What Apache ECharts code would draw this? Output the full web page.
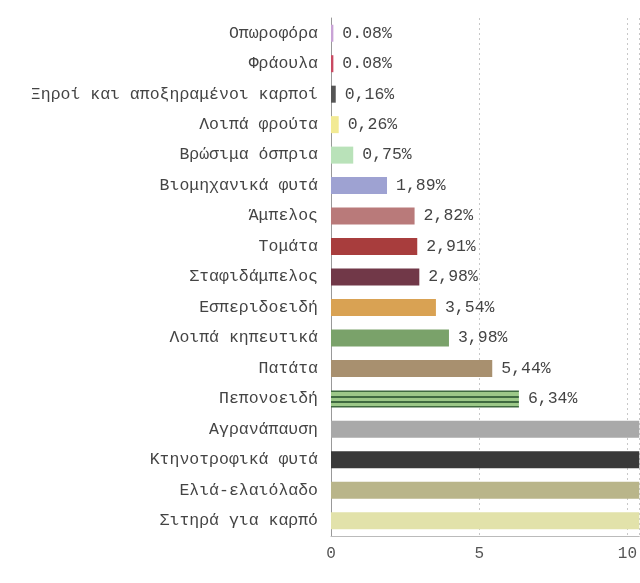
<!DOCTYPE html>
<html>
<head>
<meta charset="utf-8">
<script src="https://cdn.jsdelivr.net/npm/echarts@6/dist/echarts.min.js"></script>
<style>html,body{margin:0;padding:0;background:#fff}#c{width:640px;height:583px}</style>
</head>
<body>
<div id="c"></div>
<script>
var categories = ["Οπωροφόρα","Φράουλα","Ξηροί και αποξηραμένοι καρποί","Λοιπά φρούτα","Βρώσιμα όσπρια","Βιομηχανικά φυτά","Άμπελος","Τομάτα","Σταφιδάμπελος","Εσπεριδοειδή","Λοιπά κηπευτικά","Πατάτα","Πεπονοειδή","Αγρανάπαυση","Κτηνοτροφικά φυτά","Ελιά-ελαιόλαδο","Σιτηρά για καρπό"];
// last four values are cut off in the reference; estimated
var values = [0.08,0.08,0.16,0.26,0.75,1.89,2.82,2.91,2.98,3.54,3.98,5.44,6.34,11.5,14.2,19.8,23.3];
var valueLabels = ["0.08%","0.08%","0,16%","0,26%","0,75%","1,89%","2,82%","2,91%","2,98%","3,54%","3,98%","5,44%","6,34%","11,50%","14,20%","19,80%","23,30%"];
var xTicks = [0,5,10];

var dark = '#3f6a40', light = '#9cc888';
var stripe = {type:'linear',x:0,y:0,x2:0,y2:1,colorStops:[
  {offset:0,color:dark},{offset:0.12,color:dark},
  {offset:0.12,color:light},{offset:0.32,color:light},
  {offset:0.32,color:dark},{offset:0.44,color:dark},
  {offset:0.44,color:light},{offset:0.64,color:light},
  {offset:0.64,color:dark},{offset:0.76,color:dark},
  {offset:0.76,color:light},{offset:0.9,color:light},
  {offset:0.9,color:dark},{offset:1,color:dark}
]};
var colors = ['#c9a3d6','#c94a62','#555555','#f2ea94','#b9e2b9','#9ea2d2','#b97a7a','#a83d3d','#713848','#d9a253','#7aa26a','#a8906f',stripe,'#a9a9a9','#393939','#b9b58a','#e2e2aa'];

var chart = echarts.init(document.getElementById('c'));
chart.setOption({
  animation:false,
  grid:{left:331,right:0,top:18,bottom:47,containLabel:false},
  xAxis:{type:'value',min:0,max:10.4,interval:5,
    axisLine:{show:true,lineStyle:{color:'#bbbbbb'}},
    axisTick:{show:false},
    axisLabel:{color:'#555',fontFamily:'Liberation Mono',fontSize:16,margin:10,showMaxLabel:false,
      formatter:function(v){return xTicks.indexOf(v)>=0?String(v):'';}},
    splitLine:{show:true,lineStyle:{color:'#c8c8c8',type:[2,3]}}
  },
  yAxis:{type:'category',data:categories,inverse:true,
    axisLine:{show:true,lineStyle:{color:'#999999'}},
    axisTick:{show:false},
    axisLabel:{color:'#444',fontFamily:'Liberation Mono',fontSize:16.5,margin:13}
  },
  series:[{type:'bar',barWidth:17,clip:true,
    data:values.map(function(v,i){return {value:v,itemStyle:{color:colors[i]}};}),
    label:{show:true,position:'right',distance:9,color:'#444',fontFamily:'Liberation Mono',fontSize:16.5,
      formatter:function(p){return valueLabels[p.dataIndex];}}
  }]
});
</script>
</body>
</html>
